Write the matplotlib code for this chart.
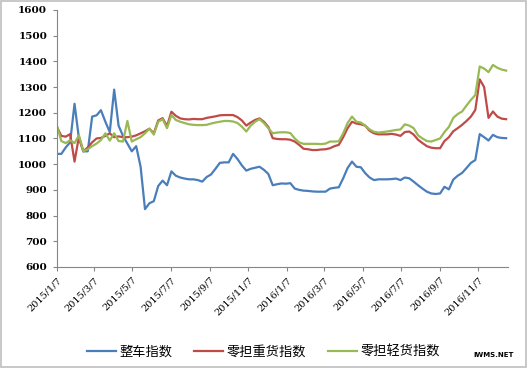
import matplotlib
matplotlib.use('Agg')
import matplotlib.pyplot as plt
import matplotlib.dates as mdates
from matplotlib.patches import Rectangle
import pandas as pd

plt.rcParams['font.family'] = ['Noto Sans CJK SC', 'DejaVu Sans']

# weekly index values, starting 2015/1/7
zhengche = [1040, 1040, 1065, 1085, 1235, 1100, 1050, 1050, 1185, 1190,
            1210, 1165, 1125, 1290, 1150, 1110, 1080, 1050, 1070, 990,
            825, 848, 856, 915, 936, 918, 972, 955, 948, 944,
            941, 941, 938, 932, 950, 960, 982, 1005, 1007, 1007,
            1040, 1020, 995, 975, 982, 986, 990, 978, 962, 918,
            922, 925, 924, 926, 905, 900, 897, 896, 894, 893,
            893, 893, 905, 908, 910, 945, 985, 1010, 990, 988,
            965, 948, 938, 941, 941, 941, 942, 944, 938, 948,
            945, 932, 918, 905, 893, 886, 884, 886, 912, 902,
            940, 955, 966, 985, 1005, 1016, 1117, 1105, 1092, 1114,
            1105, 1102, 1101]
zhonghuo = [1145, 1110, 1107, 1117, 1010, 1107, 1050, 1065, 1085, 1100,
            1102, 1110, 1120, 1105, 1108, 1105, 1105, 1107, 1112, 1120,
            1128, 1138, 1120, 1170, 1179, 1148, 1204, 1188, 1178, 1175,
            1174, 1176, 1175, 1175, 1180, 1183, 1186, 1190, 1191, 1191,
            1191, 1183, 1170, 1150, 1162, 1172, 1178, 1165, 1145, 1101,
            1098, 1097, 1097, 1095, 1088, 1075, 1060, 1058, 1055, 1055,
            1057, 1058, 1062, 1070, 1075, 1105, 1140, 1165, 1158, 1155,
            1150, 1130, 1120, 1116, 1116, 1116, 1118, 1115, 1110, 1125,
            1127, 1115, 1095, 1082, 1070, 1064, 1062, 1062, 1090, 1105,
            1128, 1140, 1153, 1168, 1185, 1211, 1330, 1300, 1180, 1205,
            1185, 1177, 1175]
qinghuo = [1150, 1090, 1082, 1093, 1082, 1112, 1050, 1058, 1070, 1080,
           1094, 1120, 1092, 1120, 1090, 1088, 1168, 1088, 1097, 1105,
           1120, 1138, 1115, 1165, 1175, 1140, 1191, 1172, 1165, 1160,
           1155, 1153, 1152, 1152, 1153, 1158, 1162, 1165, 1168, 1168,
           1166, 1160, 1146, 1127, 1150, 1165, 1175, 1160, 1140, 1120,
           1123, 1124, 1124, 1121, 1100, 1085, 1079, 1079, 1079, 1079,
           1078, 1080, 1088, 1088, 1089, 1120, 1160, 1185, 1165, 1162,
           1150, 1135, 1126, 1123, 1125, 1127, 1130, 1133, 1135, 1155,
           1150, 1140, 1112, 1100, 1090, 1088, 1094, 1100, 1125, 1145,
           1180, 1195, 1205, 1228, 1250, 1269, 1380, 1372, 1358, 1386,
           1375, 1368, 1364]
series_names = ['整车指数', '零担重货指数', '零担轻货指数']
tick_labels = ['2015/1/7', '2015/3/7', '2015/5/7', '2015/7/7', '2015/9/7', '2015/11/7',
               '2016/1/7', '2016/3/7', '2016/5/7', '2016/7/7', '2016/9/7', '2016/11/7']
y_ticks = [600, 700, 800, 900, 1000, 1100, 1200, 1300, 1400, 1500, 1600]

dates = pd.date_range('2015-01-07', periods=len(zhengche), freq='7D')
tick_dates = pd.to_datetime(tick_labels, format='%Y/%m/%d')

fig = plt.figure(figsize=(5.27, 3.68), dpi=100)
ax = fig.add_axes([0.108, 0.2745, 0.856, 0.6985])

colors = ['#4A7EBB', '#BE4B48', '#98B954']
for vals, name, c in zip([zhengche, zhonghuo, qinghuo], series_names, colors):
    ax.plot(dates, vals, color=c, lw=1.6, label=name)

ax.set_ylim(600, 1600)
ax.set_yticks(y_ticks)
ax.set_yticklabels([str(v) for v in y_ticks], family='DejaVu Serif',
                   fontweight='bold', fontsize=7.5)
ax.set_xlim(dates[0], dates[-1] + pd.Timedelta(days=3))
ax.set_xticks(tick_dates)
ax.set_xticklabels(tick_labels, rotation=45, ha='right', rotation_mode='anchor',
                   family='DejaVu Serif', fontsize=7)

for s in ['top', 'right']:
    ax.spines[s].set_visible(False)
for s in ['left', 'bottom']:
    ax.spines[s].set_color('#868686')
ax.tick_params(axis='both', color='#868686', length=3, pad=4)
ax.tick_params(axis='x', pad=3)

fig.legend(loc='center', bbox_to_anchor=(0.5, 0.043), ncol=3, frameon=False,
           fontsize=9.5, handlelength=2.2, columnspacing=1.6, handletextpad=0.3)

fig.text(0.975, 0.035, 'IWMS.NET', ha='right', va='center', fontsize=5,
         fontweight='bold', family='DejaVu Sans')

fig.patches.append(Rectangle((0.002, 0.003), 0.996, 0.994, transform=fig.transFigure,
                             fill=False, edgecolor='#BFBFBF', lw=1.2))

fig.savefig('out.png', dpi=100)
